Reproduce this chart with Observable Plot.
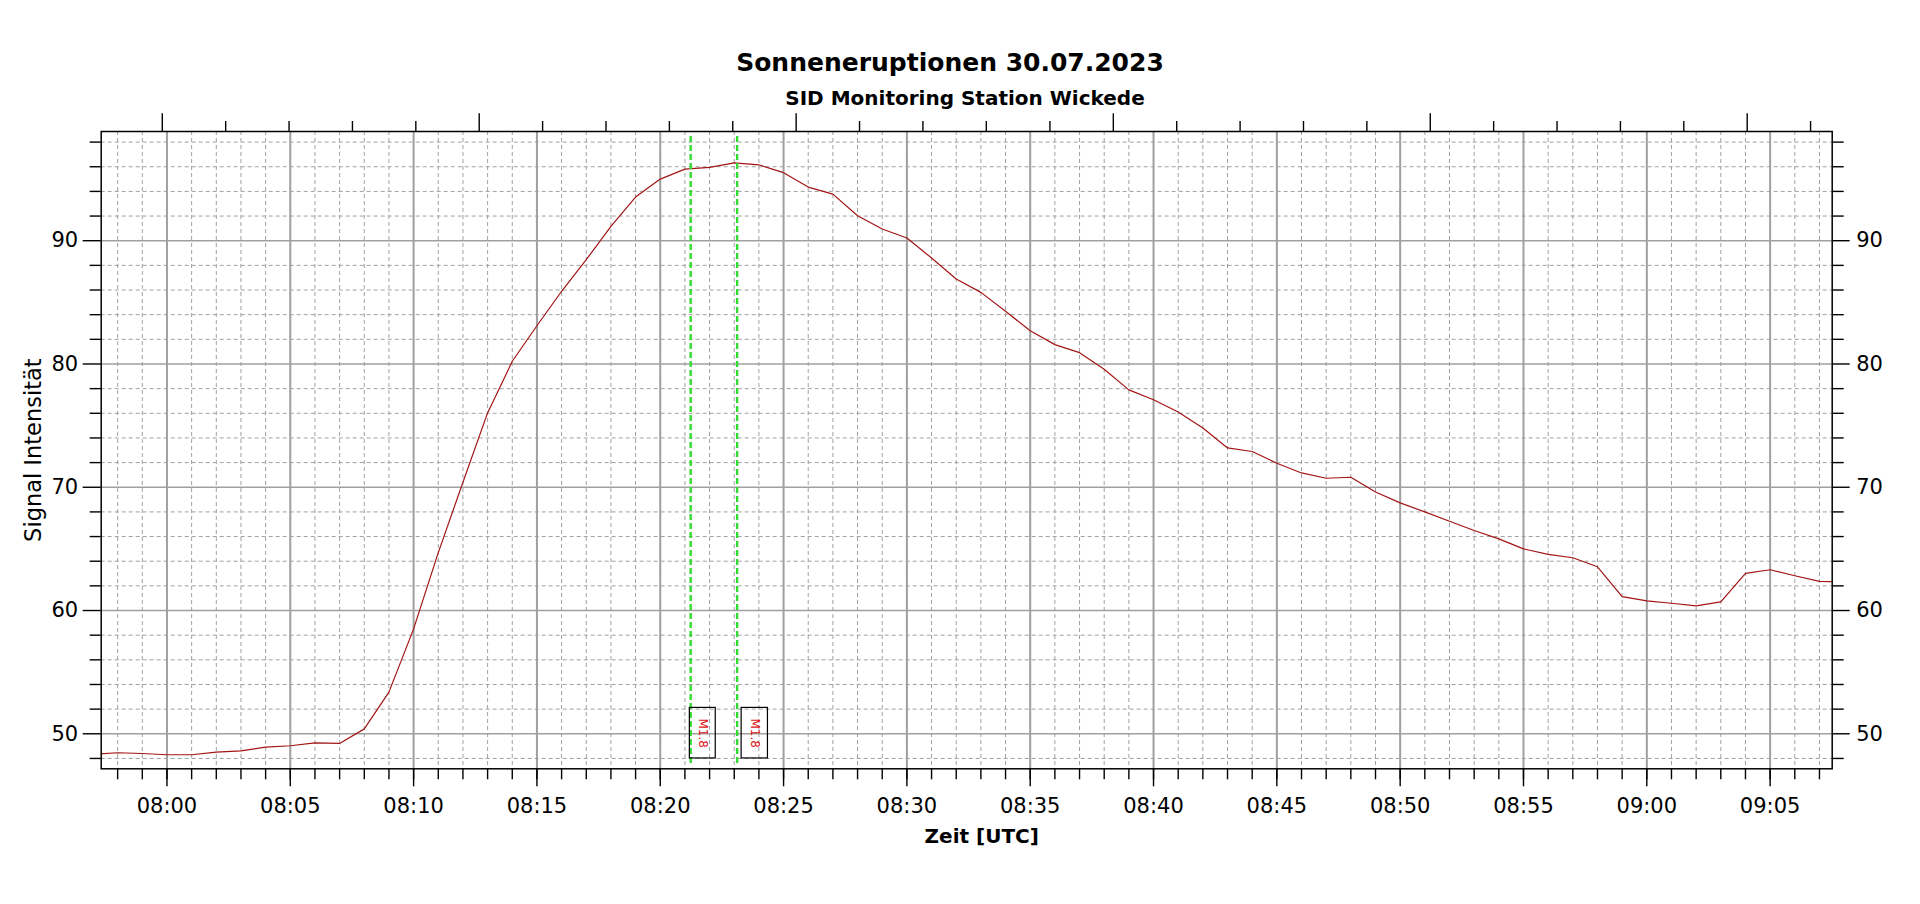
<!DOCTYPE html>
<html><head><meta charset="utf-8">
<script src="https://cdn.jsdelivr.net/npm/d3@7"></script>
<script src="https://cdn.jsdelivr.net/npm/@observablehq/plot@0.6"></script>
<style>
body{margin:0;background:#fff;}
#head{position:relative;width:1920px;height:110px;font-family:"DejaVu Sans",sans-serif;color:#000;}
#title{position:absolute;left:950px;top:50px;transform:translateX(-50%);font-size:25px;font-weight:bold;line-height:25px;white-space:nowrap;}
#subtitle{position:absolute;left:965px;top:88px;transform:translateX(-50%);font-size:20px;font-weight:bold;line-height:20px;white-space:nowrap;}
</style></head>
<body>
<div id="head"><div id="title">Sonneneruptionen 30.07.2023</div><div id="subtitle">SID Monitoring Station Wickede</div></div>
<div id="chart"></div>
<script>
const day = "2023-07-30";
// Messzeitpunkte (UTC) und Signalintensität
const times = ["07:57","07:58","07:59","08:00","08:01","08:02","08:03","08:04","08:05","08:06","08:07","08:08","08:09","08:10","08:11","08:12","08:13","08:14","08:15","08:16","08:17","08:18","08:19","08:20","08:21","08:22","08:23","08:24","08:25","08:26","08:27","08:28","08:29","08:30","08:31","08:32","08:33","08:34","08:35","08:36","08:37","08:38","08:39","08:40","08:41","08:42","08:43","08:44","08:45","08:46","08:47","08:48","08:49","08:50","08:51","08:52","08:53","08:54","08:55","08:56","08:57","08:58","08:59","09:00","09:01","09:02","09:03","09:04","09:05","09:06","09:07","09:08"];
const values = [48.34,48.46,48.40,48.30,48.30,48.51,48.62,48.92,49.03,49.27,49.22,50.40,53.38,58.51,64.70,70.40,76.03,80.22,83.10,85.90,88.46,91.16,93.54,95.00,95.81,95.95,96.32,96.16,95.52,94.35,93.78,92.03,90.95,90.22,88.60,86.89,85.81,84.27,82.70,81.57,80.92,79.57,77.90,77.10,76.10,74.81,73.19,72.90,71.95,71.16,70.73,70.81,69.62,68.73,68.00,67.24,66.49,65.81,65.00,64.55,64.28,63.55,61.13,60.78,60.59,60.38,60.70,63.01,63.31,62.82,62.37,62.31];

// Flare-Markierungen
const flareLineTimes = ["08:21:14","08:23:07"];
const flareBoxStart = ["08:21:12","08:23:18"];
const flareBoxEnd = ["08:22:15","08:24:22"];
const flareBoxLow = [48.0, 48.0];
const flareBoxHigh = [52.1, 52.1];
const flareLabels = ["M1.8","M1.8"];

// Achsen
const xDomainTimes = ["07:57:20","09:07:31"];
const xTickLabels = ["08:00","08:05","08:10","08:15","08:20","08:25","08:30","08:35","08:40","08:45","08:50","08:55","09:00","09:05"];
const xMinorFirst = "07:58", xMinorLast = "09:07";
const yDomain = [47.16, 98.86];
const yMajor = [50, 60, 70, 80, 90];
const yMinor = [48, 52, 54, 56, 58, 62, 64, 66, 68, 72, 74, 76, 78, 82, 84, 86, 88, 92, 94, 96, 98];
// obere Achse (ohne Beschriftung), Minuten nach 08:00
const topMajorMin = [-0.19, 12.66, 25.51, 38.37, 51.22, 64.07];
const topMinorMin = [2.38, 4.95, 7.52, 10.09, 15.23, 17.80, 20.37, 22.94, 28.08, 30.65, 33.22, 35.80, 40.94, 43.51, 46.08, 48.65, 53.79, 56.36, 58.93, 61.50, 66.64];

const toDate = s => new Date(`${day}T${s.length === 5 ? s + ":00" : s}Z`);
const base = toDate("08:00");
const fromMin = m => new Date(base.getTime() + m * 60000);

const data = times.map((t, i) => ({time: toDate(t), value: values[i]}));
const flares = flareLabels.map((l, i) => ({
  line: toDate(flareLineTimes[i]), start: toDate(flareBoxStart[i]), end: toDate(flareBoxEnd[i]),
  low: flareBoxLow[i], high: flareBoxHigh[i], label: l
}));
const xMajor = xTickLabels.map(toDate);
const xMinor = d3.utcMinute.range(toDate(xMinorFirst), new Date(toDate(xMinorLast).getTime() + 1));
const fmt = d3.utcFormat("%H:%M");
const gridColor = "#a0a0a0";

const chart = Plot.plot({
  width: 1920,
  height: 794,
  marginTop: 21,
  marginBottom: 135.7,
  marginLeft: 100.7,
  marginRight: 88.3,
  style: {fontFamily: "DejaVu Sans, sans-serif", background: "#fff", color: "#000"},
  x: {type: "utc", domain: xDomainTimes.map(toDate)},
  y: {domain: yDomain},
  marks: [
    Plot.gridX(xMinor, {stroke: gridColor, strokeOpacity: 1, strokeWidth: 1, strokeDasharray: "4,3"}),
    Plot.gridY(yMinor, {stroke: gridColor, strokeOpacity: 1, strokeWidth: 1, strokeDasharray: "4,3"}),
    Plot.gridY(yMajor, {stroke: gridColor, strokeOpacity: 1, strokeWidth: 1.5}),
    Plot.gridX(xMajor, {stroke: gridColor, strokeOpacity: 1, strokeWidth: 2}),
    Plot.line(data, {x: "time", y: "value", stroke: "#a31515", strokeWidth: 1.2, clip: true}),
    Plot.ruleX(flares, {x: "line", stroke: "#2fdc2f", strokeWidth: 2.4, strokeDasharray: "6,3", insetTop: 5, insetBottom: 5}),
    Plot.rect(flares, {x1: "start", x2: "end", y1: "low", y2: "high", fill: "none", stroke: "#000", strokeWidth: 1.2}),
    Plot.text(flares, {x: d => new Date((d.start.getTime() + d.end.getTime()) / 2), y: d => (d.low + d.high) / 2, text: "label", rotate: 90, fill: "#dd1111", fontSize: 12}),
    Plot.frame({stroke: "#000", strokeWidth: 1.5}),
    // untere Achse
    Plot.axisX(xMajor, {anchor: "bottom", tickSize: 18, tickPadding: 11, tickFormat: fmt, fontSize: 21, label: null, strokeWidth: 1.4}),
    Plot.axisX(xMinor, {anchor: "bottom", tickSize: 11, tickFormat: () => "", label: null, strokeWidth: 1.4}),
    // obere Achse
    Plot.axisX(topMajorMin.map(fromMin), {anchor: "top", tickSize: 18.7, tickFormat: () => "", label: null, strokeWidth: 1.4}),
    Plot.axisX(topMinorMin.map(fromMin), {anchor: "top", tickSize: 11, tickFormat: () => "", label: null, strokeWidth: 1.4}),
    // linke und rechte Achse
    Plot.axisY(yMajor, {anchor: "left", tickSize: 18, tickPadding: 5, fontSize: 21, label: null, strokeWidth: 1.4}),
    Plot.axisY(yMinor, {anchor: "left", tickSize: 11, tickFormat: () => "", label: null, strokeWidth: 1.4}),
    Plot.axisY(yMajor, {anchor: "right", tickSize: 17, tickPadding: 7, fontSize: 21, label: null, strokeWidth: 1.4}),
    Plot.axisY(yMinor, {anchor: "right", tickSize: 11, tickFormat: () => "", label: null, strokeWidth: 1.4}),
    Plot.text(["Signal Intensität"], {frameAnchor: "left", textAnchor: "middle", rotate: -90, dx: -67, fontSize: 22.5, lineAnchor: "middle"}),
    Plot.text(["Zeit [UTC]"], {frameAnchor: "bottom", textAnchor: "middle", dx: 15, dy: 68, fontSize: 20, fontWeight: "bold", lineAnchor: "middle"})
  ]
});
document.getElementById("chart").appendChild(chart);
</script>
</body></html>
